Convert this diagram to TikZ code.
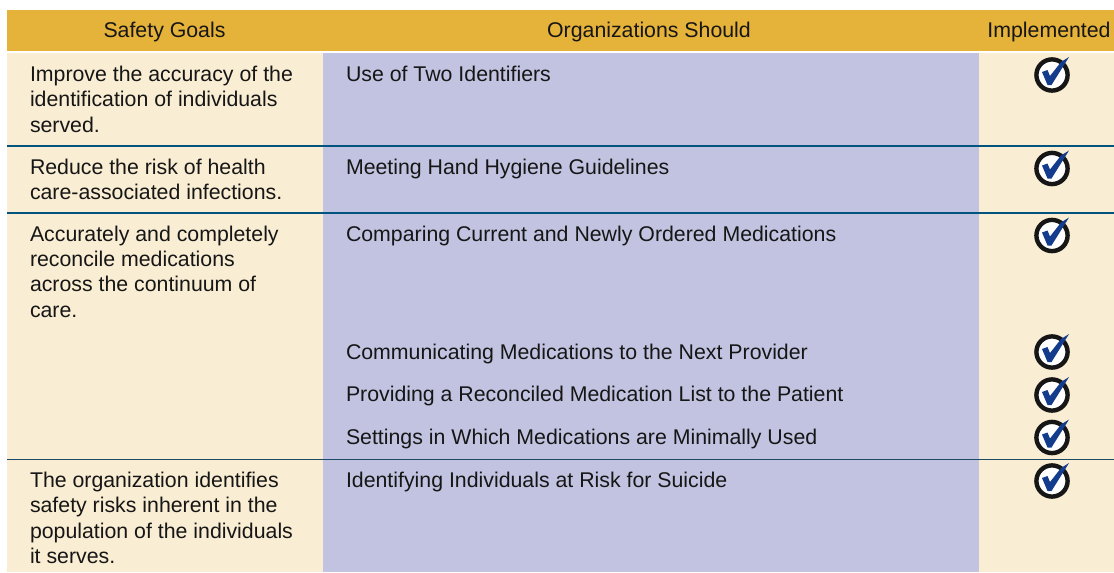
\documentclass[tikz,border=0pt]{standalone}
\usepackage{fontspec}
\setmainfont{Liberation Sans}
\definecolor{gold}{HTML}{E5B23A}
\definecolor{cream}{HTML}{F9EDD3}
\definecolor{lav}{HTML}{C1C3E0}
\definecolor{rule}{HTML}{00547F}
\definecolor{rulethin}{HTML}{1D4A66}
\definecolor{tick}{HTML}{143C8C}
\definecolor{ink}{HTML}{161616}
\newcommand{\tbl}{\fontsize{15.98pt}{19.05pt}\selectfont}
\tikzset{
  x=0.75pt,y=-0.75pt,
  every node/.style={inner sep=0pt,outer sep=0pt,text=ink,font=\tbl},
  cell/.style={anchor=base west,align=left},
  head/.style={anchor=base},
  pics/okmark/.style={code={
    \fill[white] (0,0) circle (16);
    \draw[ink,line width=3.3pt] (0,0) circle (15.6);
    \fill[tick] (-10,-3) -- (-4.5,-5) -- (-2,1) -- (9,-13) -- (17,-18) -- (-0.5,10) -- (-4.5,10) -- cycle;
  }}
}
\begin{document}
\begin{tikzpicture}
\useasboundingbox (0,0) rectangle (1114,572);
\fill[white] (0,0) rectangle (1114,572);
\fill[gold] (7,10) rectangle (1114,51);
\fill[cream] (7,53) rectangle (323,572);
\fill[lav] (323,53) rectangle (979,572);
\fill[cream] (979,53) rectangle (1114,572);
\draw[rule,line width=1.1pt] (7,145.8) -- (1114,145.8);
\draw[rule,line width=1.1pt] (7,212.8) -- (1114,212.8);
\draw[rulethin,line width=0.8pt] (7,459.2) -- (1114,459.2);
\node[head] (h1) at (164.5,37.5) {Safety Goals};
\node[head] (h2) at (649,37.5) {Organizations Should};
\node[head] (h3) at (1049,37.5) {Implemented};
\node[cell] (g1) at (30,132.2) {Improve the accuracy of the\\identification of individuals\\served.};
\node[cell] (g2) at (30,199.8) {Reduce the risk of health\\care-associated infections.};
\node[cell] (g3) at (30,317.3) {Accurately and completely\\reconcile medications\\across the continuum of\\care.};
\node[cell] (g4) at (30,563.6) {The organization identifies\\safety risks inherent in the\\population of the individuals\\it serves.};
\node[cell] (o1) at (346,81.3) {Use of Two Identifiers};
\node[cell] (o2) at (346,174.3) {Meeting Hand Hygiene Guidelines};
\node[cell] (o3) at (346,241.1) {Comparing Current and Newly Ordered Medications};
\node[cell] (o4) at (346,359.3) {Communicating Medications to the Next Provider};
\node[cell] (o5) at (346,401.3) {Providing a Reconciled Medication List to the Patient};
\node[cell] (o6) at (346,444.3) {Settings in Which Medications are Minimally Used};
\node[cell] (o7) at (346,487.3) {Identifying Individuals at Risk for Suicide};
\foreach \yy in {75,168.5,235.5,352,395,437.5,481}
  \pic at (1052,\yy) {okmark};
\end{tikzpicture}
\end{document}
